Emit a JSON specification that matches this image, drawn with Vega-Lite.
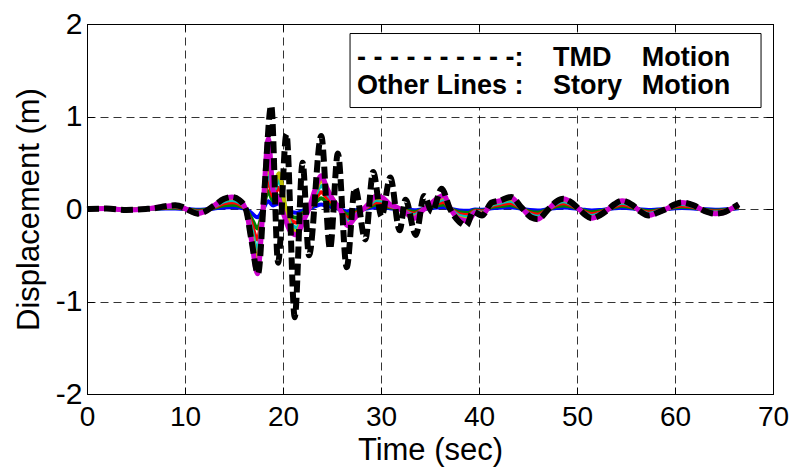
{
  "$schema": "https://vega.github.io/schema/vega-lite/v6.json",
  "width": 686,
  "height": 370,
  "autosize": {"type": "none"},
  "padding": {"left": 87, "top": 24, "right": 20, "bottom": 75},
  "background": "white",
  "view": {"stroke": "black", "strokeWidth": 1},
  "config": {"font": "Liberation Sans"},
  "datasets": {
    "tmd": [
      {"t": 0, "d": 0}, {"t": 2, "d": 0.005}, {"t": 4, "d": -0.01}, {"t": 6, "d": 0}, {"t": 7, "d": 0.01},
      {"t": 8, "d": 0.03}, {"t": 9, "d": 0.04}, {"t": 9.8, "d": 0.02}, {"t": 10.5, "d": -0.02}, {"t": 11.3, "d": -0.05},
      {"t": 12, "d": -0.03}, {"t": 13, "d": 0.04}, {"t": 14, "d": 0.11}, {"t": 14.8, "d": 0.13}, {"t": 15.5, "d": 0.10},
      {"t": 16.2, "d": 0.0}, {"t": 16.8, "d": -0.35}, {"t": 17.45, "d": -0.70}, {"t": 18.1, "d": 0.2}, {"t": 18.8, "d": 1.12},
      {"t": 19.5, "d": -0.58}, {"t": 20.35, "d": 0.81}, {"t": 21.2, "d": -1.17}, {"t": 22.0, "d": 0.50}, {"t": 22.65, "d": -0.50},
      {"t": 23.9, "d": 0.79}, {"t": 24.8, "d": -0.43}, {"t": 25.6, "d": 0.60}, {"t": 26.5, "d": -0.63}, {"t": 27.35, "d": 0.23},
      {"t": 28.4, "d": -0.33}, {"t": 29.2, "d": 0.40}, {"t": 30.05, "d": -0.08}, {"t": 30.95, "d": 0.34}, {"t": 31.9, "d": -0.23},
      {"t": 32.5, "d": 0.10}, {"t": 33.55, "d": -0.28}, {"t": 34.4, "d": 0.14}, {"t": 35.2, "d": -0.03}, {"t": 36.2, "d": 0.22},
      {"t": 37.0, "d": 0.01}, {"t": 38.0, "d": -0.14}, {"t": 38.7, "d": -0.18}, {"t": 39.4, "d": -0.03}, {"t": 40.3, "d": -0.07},
      {"t": 41.3, "d": 0.07}, {"t": 42.1, "d": 0.09}, {"t": 43.3, "d": 0.13}, {"t": 44.3, "d": 0.02}, {"t": 45.3, "d": -0.09},
      {"t": 46.0, "d": -0.11}, {"t": 47.1, "d": 0.0}, {"t": 47.9, "d": 0.08}, {"t": 48.6, "d": 0.11}, {"t": 49.3, "d": 0.08},
      {"t": 50.0, "d": 0.02}, {"t": 50.8, "d": -0.06}, {"t": 51.5, "d": -0.10}, {"t": 52.3, "d": -0.07}, {"t": 53.0, "d": -0.02},
      {"t": 53.8, "d": 0.05}, {"t": 54.6, "d": 0.09}, {"t": 55.7, "d": 0.04}, {"t": 56.5, "d": -0.03}, {"t": 57.3, "d": -0.07},
      {"t": 58.2, "d": -0.04}, {"t": 59.1, "d": 0.0}, {"t": 60.0, "d": 0.05}, {"t": 60.7, "d": 0.07}, {"t": 61.9, "d": 0.04},
      {"t": 63.0, "d": -0.02}, {"t": 64.1, "d": -0.05}, {"t": 64.9, "d": -0.04}, {"t": 65.7, "d": 0.0}, {"t": 66.5, "d": 0.05}
    ],
    "story": [
      {"t": 0, "m": 0, "s1": 0, "s2": 0, "s3": 0, "s4": 0, "s5": 0},
      {"t": 2, "m": 0.005, "s1": 0.001, "s2": 0.002, "s3": 0.003, "s4": 0.004, "s5": 0.005},
      {"t": 4, "m": -0.01, "s1": -0.002, "s2": -0.004, "s3": -0.006, "s4": -0.008, "s5": -0.009},
      {"t": 6, "m": 0, "s1": 0, "s2": 0, "s3": 0, "s4": 0, "s5": 0},
      {"t": 8, "m": 0.03, "s1": 0.005, "s2": 0.011, "s3": 0.017, "s4": 0.023, "s5": 0.028},
      {"t": 9, "m": 0.04, "s1": 0.006, "s2": 0.014, "s3": 0.022, "s4": 0.03, "s5": 0.037},
      {"t": 10.5, "m": -0.02, "s1": -0.003, "s2": -0.007, "s3": -0.011, "s4": -0.015, "s5": -0.018},
      {"t": 11.3, "m": -0.05, "s1": -0.008, "s2": -0.018, "s3": -0.028, "s4": -0.038, "s5": -0.046},
      {"t": 12, "m": -0.03, "s1": -0.005, "s2": -0.011, "s3": -0.017, "s4": -0.023, "s5": -0.028},
      {"t": 13, "m": 0.04, "s1": 0.006, "s2": 0.014, "s3": 0.022, "s4": 0.03, "s5": 0.037},
      {"t": 14, "m": 0.11, "s1": 0.017, "s2": 0.039, "s3": 0.061, "s4": 0.083, "s5": 0.101},
      {"t": 14.8, "m": 0.13, "s1": 0.02, "s2": 0.046, "s3": 0.072, "s4": 0.098, "s5": 0.12},
      {"t": 15.5, "m": 0.10, "s1": 0.015, "s2": 0.035, "s3": 0.055, "s4": 0.075, "s5": 0.092},
      {"t": 16.2, "m": 0.0, "s1": 0, "s2": 0, "s3": 0, "s4": 0, "s5": 0},
      {"t": 16.8, "m": -0.35, "s1": -0.045, "s2": -0.105, "s3": -0.165, "s4": -0.225, "s5": -0.276},
      {"t": 17.4, "m": -0.70, "s1": -0.09, "s2": -0.21, "s3": -0.33, "s4": -0.45, "s5": -0.552},
      {"t": 17.9, "m": -0.1, "s1": -0.015, "s2": -0.035, "s3": -0.055, "s4": -0.075, "s5": -0.092},
      {"t": 18.5, "m": 0.76, "s1": 0.083, "s2": 0.193, "s3": 0.303, "s4": 0.413, "s5": 0.506},
      {"t": 19.0, "m": 0.2, "s1": 0.038, "s2": 0.088, "s3": 0.138, "s4": 0.188, "s5": 0.23},
      {"t": 19.6, "m": 0.1, "s1": 0.063, "s2": 0.147, "s3": 0.231, "s4": 0.315, "s5": 0.386},
      {"t": 20.2, "m": -0.1, "s1": 0.008, "s2": 0.018, "s3": 0.028, "s4": 0.038, "s5": 0.046},
      {"t": 20.8, "m": -0.25, "s1": -0.033, "s2": -0.077, "s3": -0.121, "s4": -0.165, "s5": -0.202},
      {"t": 21.4, "m": -0.28, "s1": -0.041, "s2": -0.095, "s3": -0.149, "s4": -0.203, "s5": -0.248},
      {"t": 22.0, "m": -0.15, "s1": -0.018, "s2": -0.042, "s3": -0.066, "s4": -0.09, "s5": -0.11},
      {"t": 22.7, "m": 0.02, "s1": 0.003, "s2": 0.007, "s3": 0.011, "s4": 0.015, "s5": 0.018},
      {"t": 23.3, "m": 0.22, "s1": 0.03, "s2": 0.07, "s3": 0.11, "s4": 0.15, "s5": 0.184},
      {"t": 23.9, "m": 0.36, "s1": 0.05, "s2": 0.116, "s3": 0.182, "s4": 0.248, "s5": 0.304},
      {"t": 24.5, "m": 0.22, "s1": 0.033, "s2": 0.077, "s3": 0.121, "s4": 0.165, "s5": 0.202},
      {"t": 25.1, "m": 0.1, "s1": 0.018, "s2": 0.042, "s3": 0.066, "s4": 0.09, "s5": 0.11},
      {"t": 25.8, "m": 0.0, "s1": 0, "s2": 0, "s3": 0, "s4": 0, "s5": 0},
      {"t": 26.6, "m": -0.18, "s1": -0.026, "s2": -0.06, "s3": -0.094, "s4": -0.128, "s5": -0.156},
      {"t": 27.3, "m": -0.1, "s1": -0.015, "s2": -0.035, "s3": -0.055, "s4": -0.075, "s5": -0.092},
      {"t": 28.0, "m": -0.02, "s1": -0.003, "s2": -0.007, "s3": -0.011, "s4": -0.015, "s5": -0.018},
      {"t": 28.7, "m": 0.05, "s1": 0.008, "s2": 0.018, "s3": 0.028, "s4": 0.038, "s5": 0.046},
      {"t": 29.5, "m": 0.14, "s1": 0.02, "s2": 0.046, "s3": 0.072, "s4": 0.098, "s5": 0.12},
      {"t": 30.2, "m": 0.12, "s1": 0.018, "s2": 0.042, "s3": 0.066, "s4": 0.09, "s5": 0.11},
      {"t": 30.9, "m": 0.05, "s1": 0.008, "s2": 0.018, "s3": 0.028, "s4": 0.038, "s5": 0.046},
      {"t": 31.6, "m": 0.02, "s1": 0.003, "s2": 0.007, "s3": 0.011, "s4": 0.015, "s5": 0.018},
      {"t": 32.4, "m": -0.03, "s1": -0.005, "s2": -0.011, "s3": -0.017, "s4": -0.023, "s5": -0.028},
      {"t": 33.4, "m": -0.1, "s1": -0.014, "s2": -0.032, "s3": -0.05, "s4": -0.068, "s5": -0.083},
      {"t": 34.2, "m": -0.02, "s1": -0.003, "s2": -0.007, "s3": -0.011, "s4": -0.015, "s5": -0.018},
      {"t": 35.0, "m": 0.05, "s1": 0.008, "s2": 0.018, "s3": 0.028, "s4": 0.038, "s5": 0.046},
      {"t": 35.8, "m": 0.12, "s1": 0.017, "s2": 0.039, "s3": 0.061, "s4": 0.083, "s5": 0.101},
      {"t": 36.4, "m": 0.15, "s1": 0.021, "s2": 0.049, "s3": 0.077, "s4": 0.105, "s5": 0.129},
      {"t": 37.0, "m": 0.02, "s1": 0.003, "s2": 0.007, "s3": 0.011, "s4": 0.015, "s5": 0.018},
      {"t": 38.0, "m": -0.11, "s1": -0.015, "s2": -0.035, "s3": -0.055, "s4": -0.075, "s5": -0.092},
      {"t": 38.9, "m": -0.13, "s1": -0.018, "s2": -0.042, "s3": -0.066, "s4": -0.09, "s5": -0.11},
      {"t": 39.6, "m": -0.04, "s1": -0.006, "s2": -0.014, "s3": -0.022, "s4": -0.03, "s5": -0.037},
      {"t": 40.4, "m": -0.06, "s1": -0.008, "s2": -0.018, "s3": -0.028, "s4": -0.038, "s5": -0.046},
      {"t": 41.3, "m": 0.07, "s1": 0.009, "s2": 0.021, "s3": 0.033, "s4": 0.045, "s5": 0.055},
      {"t": 42.2, "m": 0.09, "s1": 0.014, "s2": 0.032, "s3": 0.05, "s4": 0.068, "s5": 0.083},
      {"t": 43.2, "m": 0.13, "s1": 0.018, "s2": 0.042, "s3": 0.066, "s4": 0.09, "s5": 0.11},
      {"t": 44.2, "m": 0.03, "s1": 0.005, "s2": 0.011, "s3": 0.017, "s4": 0.023, "s5": 0.028},
      {"t": 45.2, "m": -0.08, "s1": -0.012, "s2": -0.028, "s3": -0.044, "s4": -0.06, "s5": -0.074},
      {"t": 46.0, "m": -0.11, "s1": -0.017, "s2": -0.039, "s3": -0.061, "s4": -0.083, "s5": -0.101},
      {"t": 47.1, "m": 0, "s1": 0, "s2": 0, "s3": 0, "s4": 0, "s5": 0},
      {"t": 47.9, "m": 0.08, "s1": 0.012, "s2": 0.028, "s3": 0.044, "s4": 0.06, "s5": 0.074},
      {"t": 48.6, "m": 0.11, "s1": 0.017, "s2": 0.039, "s3": 0.061, "s4": 0.083, "s5": 0.101},
      {"t": 49.3, "m": 0.08, "s1": 0.012, "s2": 0.028, "s3": 0.044, "s4": 0.06, "s5": 0.074},
      {"t": 50.0, "m": 0.02, "s1": 0.003, "s2": 0.007, "s3": 0.011, "s4": 0.015, "s5": 0.018},
      {"t": 50.8, "m": -0.06, "s1": -0.009, "s2": -0.021, "s3": -0.033, "s4": -0.045, "s5": -0.055},
      {"t": 51.5, "m": -0.1, "s1": -0.015, "s2": -0.035, "s3": -0.055, "s4": -0.075, "s5": -0.092},
      {"t": 52.3, "m": -0.07, "s1": -0.011, "s2": -0.025, "s3": -0.039, "s4": -0.053, "s5": -0.064},
      {"t": 53.0, "m": -0.02, "s1": -0.003, "s2": -0.007, "s3": -0.011, "s4": -0.015, "s5": -0.018},
      {"t": 53.8, "m": 0.05, "s1": 0.008, "s2": 0.018, "s3": 0.028, "s4": 0.038, "s5": 0.046},
      {"t": 54.6, "m": 0.09, "s1": 0.014, "s2": 0.032, "s3": 0.05, "s4": 0.068, "s5": 0.083},
      {"t": 55.7, "m": 0.04, "s1": 0.006, "s2": 0.014, "s3": 0.022, "s4": 0.03, "s5": 0.037},
      {"t": 56.5, "m": -0.03, "s1": -0.005, "s2": -0.011, "s3": -0.017, "s4": -0.023, "s5": -0.028},
      {"t": 57.3, "m": -0.07, "s1": -0.011, "s2": -0.025, "s3": -0.039, "s4": -0.053, "s5": -0.064},
      {"t": 58.2, "m": -0.04, "s1": -0.006, "s2": -0.014, "s3": -0.022, "s4": -0.03, "s5": -0.037},
      {"t": 59.1, "m": 0, "s1": 0, "s2": 0, "s3": 0, "s4": 0, "s5": 0},
      {"t": 60.0, "m": 0.05, "s1": 0.008, "s2": 0.018, "s3": 0.028, "s4": 0.038, "s5": 0.046},
      {"t": 60.7, "m": 0.07, "s1": 0.011, "s2": 0.025, "s3": 0.039, "s4": 0.053, "s5": 0.064},
      {"t": 61.9, "m": 0.04, "s1": 0.006, "s2": 0.014, "s3": 0.022, "s4": 0.03, "s5": 0.037},
      {"t": 63.0, "m": -0.02, "s1": -0.003, "s2": -0.007, "s3": -0.011, "s4": -0.015, "s5": -0.018},
      {"t": 64.1, "m": -0.05, "s1": -0.008, "s2": -0.018, "s3": -0.028, "s4": -0.038, "s5": -0.046},
      {"t": 64.9, "m": -0.04, "s1": -0.006, "s2": -0.014, "s3": -0.022, "s4": -0.03, "s5": -0.037},
      {"t": 65.7, "m": 0, "s1": 0, "s2": 0, "s3": 0, "s4": 0, "s5": 0},
      {"t": 66.5, "m": 0.05, "s1": 0.008, "s2": 0.018, "s3": 0.028, "s4": 0.038, "s5": 0.046}
    ],
    "box": [{"x1": 26.84, "x2": 68.78, "y1": 1.897, "y2": 1.097}],
    "labels": [
      {"tx": 27.55, "ty": 1.551, "label": "- - - - - - - - - -:"},
      {"tx": 47.55, "ty": 1.551, "label": "TMD"},
      {"tx": 56.6, "ty": 1.551, "label": "Motion"},
      {"tx": 27.55, "ty": 1.238, "label": "Other Lines :"},
      {"tx": 47.55, "ty": 1.238, "label": "Story"},
      {"tx": 56.6, "ty": 1.238, "label": "Motion"}
    ]
  },
  "resolve": {"axis": {"x": "independent", "y": "independent"}},
  "layer": [
    {
      "data": {"name": "story"},
      "transform": [{"fold": ["s1", "s2", "s3", "s4", "s5"], "as": ["story", "d"]}],
      "mark": {"type": "line", "strokeWidth": 4, "interpolate": "monotone"},
      "encoding": {
        "x": {"field": "t", "type": "quantitative", "scale": {"domain": [0, 70], "nice": false},
          "axis": {"orient": "bottom", "values": [0, 10, 20, 30, 40, 50, 60, 70], "title": "Time (sec)",
            "grid": true, "gridColor": "black", "gridDash": [8, 5], "gridWidth": 0.8, "gridOpacity": 1,
            "domain": true, "domainColor": "black", "domainWidth": 1,
            "ticks": true, "tickSize": -7, "tickColor": "black",
            "labelFontSize": 28, "labelColor": "black", "labelPadding": 16, "labelFont": "Liberation Sans",
            "titleFontSize": 31, "titleFontWeight": "normal", "titleColor": "black", "titlePadding": 4, "titleFont": "Liberation Sans",
            "labelFlush": false}},
        "y": {"field": "d", "type": "quantitative", "scale": {"domain": [-2, 2], "nice": false},
          "axis": {"orient": "left", "values": [-2, -1, 0, 1, 2], "title": "Displacement (m)",
            "labelExpr": "'' + datum.value",
            "grid": true, "gridColor": "black", "gridDash": [8, 5], "gridWidth": 0.8, "gridOpacity": 1,
            "domain": true, "domainColor": "black", "domainWidth": 1,
            "ticks": true, "tickSize": -7, "tickColor": "black",
            "labelFontSize": 30, "labelColor": "black", "labelPadding": 12, "labelFont": "Liberation Sans",
            "titleFontSize": 31, "titleFontWeight": "normal", "titleColor": "black", "titlePadding": 10, "titleFont": "Liberation Sans",
            "labelFlush": false}},
        "color": {"field": "story", "type": "nominal", "legend": null,
          "scale": {"domain": ["s1", "s2", "s3", "s4", "s5"], "range": ["#0000FF", "#008000", "#FF0000", "#00BFBF", "#BFBF00"]}}
      }
    },
    {
      "data": {"name": "story"},
      "mark": {"type": "line", "strokeWidth": 5, "color": "#CC00CC", "interpolate": "monotone"},
      "encoding": {
        "x": {"field": "t", "type": "quantitative", "scale": {"domain": [0, 70], "nice": false},
          "axis": {"orient": "top", "values": [0, 10, 20, 30, 40, 50, 60, 70], "title": null, "labels": false, "grid": false,
            "domain": true, "domainColor": "black", "ticks": true, "tickSize": -7, "tickColor": "black"}},
        "y": {"field": "m", "type": "quantitative", "scale": {"domain": [-2, 2], "nice": false},
          "axis": {"orient": "right", "values": [-2, -1, 0, 1, 2], "title": null, "labels": false, "grid": false,
            "domain": true, "domainColor": "black", "ticks": true, "tickSize": -7, "tickColor": "black"}}
      }
    },
    {
      "data": {"name": "tmd"},
      "mark": {"type": "line", "strokeWidth": 6, "color": "black", "strokeDash": [12, 5], "interpolate": "monotone"},
      "encoding": {
        "x": {"field": "t", "type": "quantitative", "scale": {"domain": [0, 70], "nice": false}, "axis": null},
        "y": {"field": "d", "type": "quantitative", "scale": {"domain": [-2, 2], "nice": false}, "axis": null}
      }
    },
    {
      "data": {"name": "box"},
      "mark": {"type": "rect", "fill": "white", "stroke": "black", "strokeWidth": 1},
      "encoding": {
        "x": {"field": "x1", "type": "quantitative", "scale": {"domain": [0, 70], "nice": false}, "axis": null},
        "x2": {"field": "x2"},
        "y": {"field": "y1", "type": "quantitative", "scale": {"domain": [-2, 2], "nice": false}, "axis": null},
        "y2": {"field": "y2"}
      }
    },
    {
      "data": {"name": "labels"},
      "mark": {"type": "text", "align": "left", "baseline": "alphabetic", "fontSize": 27, "fontWeight": "bold", "color": "black", "font": "Liberation Sans"},
      "encoding": {
        "x": {"field": "tx", "type": "quantitative", "scale": {"domain": [0, 70], "nice": false}, "axis": null},
        "y": {"field": "ty", "type": "quantitative", "scale": {"domain": [-2, 2], "nice": false}, "axis": null},
        "text": {"field": "label"}
      }
    }
  ]
}
